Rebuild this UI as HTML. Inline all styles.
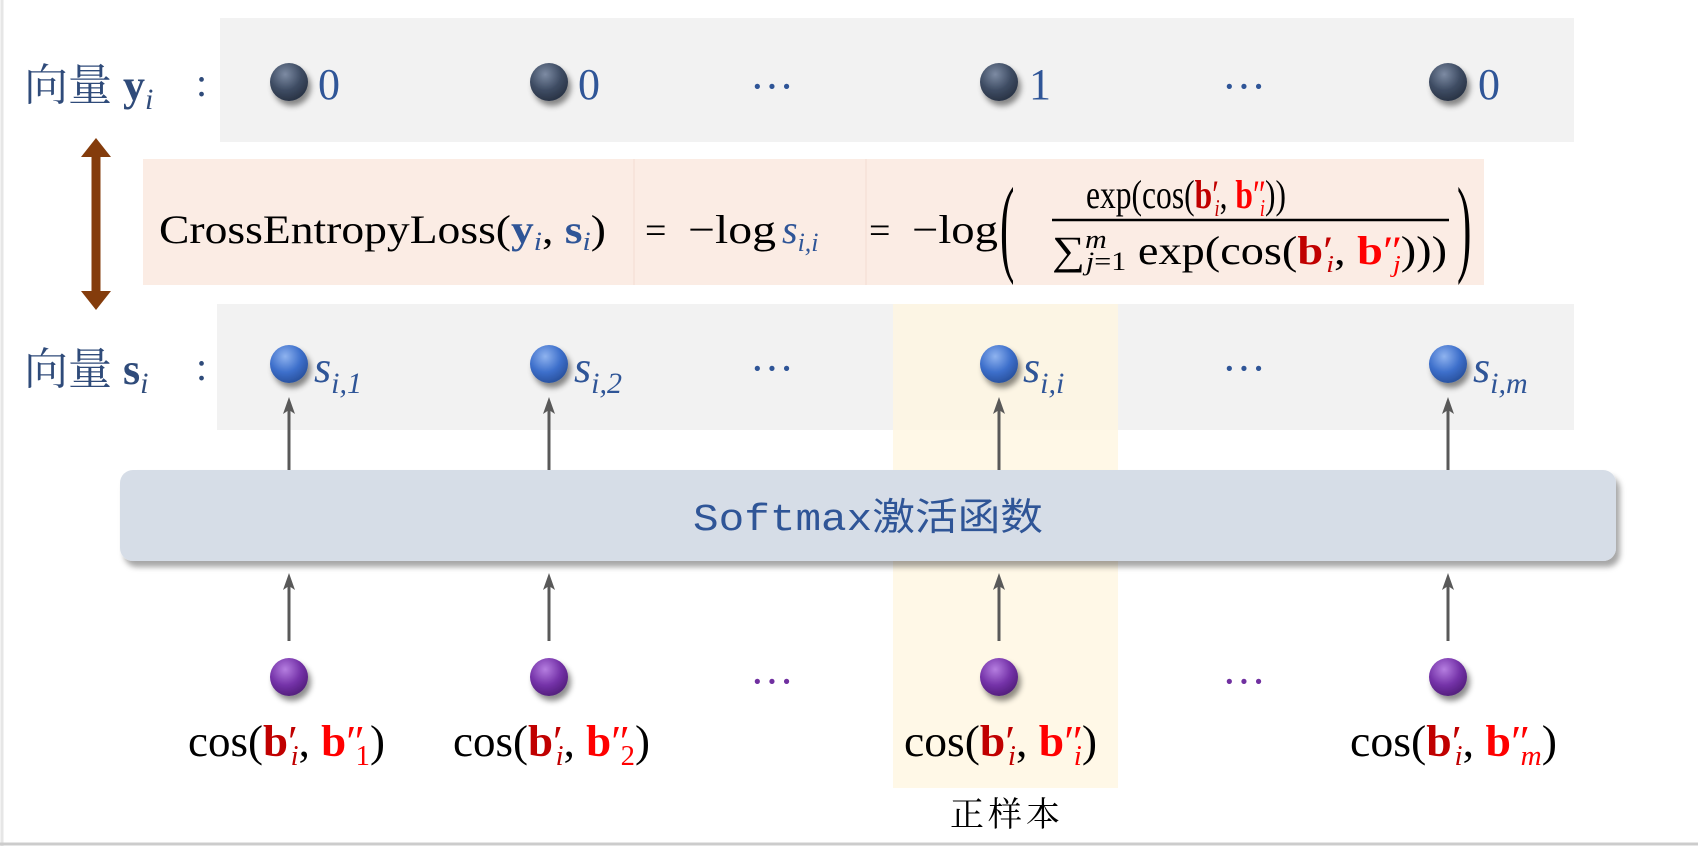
<!DOCTYPE html>
<html><head><meta charset="utf-8"><style>
html,body{margin:0;padding:0;background:#fff;width:1698px;height:846px;overflow:hidden}
svg{display:block}
.m{font-family:"Liberation Serif",serif}
.cj{font-family:"Liberation Serif","Noto Serif CJK SC",serif}
</style></head><body>
<svg width="1698" height="846" viewBox="0 0 1698 846" xmlns="http://www.w3.org/2000/svg">
<defs>
<radialGradient id="gd" cx="40%" cy="30%" r="70%"><stop offset="0" stop-color="#7d8ba3"/><stop offset="0.6" stop-color="#3e4c63"/><stop offset="1" stop-color="#2a3446"/></radialGradient>
<radialGradient id="gb" cx="40%" cy="30%" r="70%"><stop offset="0" stop-color="#8fb3ef"/><stop offset="0.6" stop-color="#3d6fcb"/><stop offset="1" stop-color="#2a53a0"/></radialGradient>
<radialGradient id="gp" cx="40%" cy="30%" r="70%"><stop offset="0" stop-color="#b57ee0"/><stop offset="0.6" stop-color="#7432a8"/><stop offset="1" stop-color="#55207f"/></radialGradient>
<filter id="sh" x="-50%" y="-50%" width="200%" height="200%"><feDropShadow dx="3" dy="5" stdDeviation="3" flood-color="#000" flood-opacity="0.45"/></filter>
<filter id="bs" x="-5%" y="-20%" width="110%" height="150%"><feDropShadow dx="4" dy="6" stdDeviation="3" flood-color="#000" flood-opacity="0.35"/></filter>
</defs>
<line x1="2" y1="0" x2="2" y2="846" stroke="#e6e6e6" stroke-width="3"/>
<line x1="0" y1="844" x2="1698" y2="844" stroke="#cccccc" stroke-width="3"/>

<rect x="220" y="18" width="1354" height="124" fill="#f2f2f2"/>
<rect x="143" y="159" width="1341" height="126" fill="#fbece4"/>
<line x1="634" y1="159" x2="634" y2="285" stroke="#f3ddd2" stroke-width="1"/>
<line x1="866" y1="159" x2="866" y2="285" stroke="#f3ddd2" stroke-width="1"/>
<rect x="217" y="304" width="1357" height="126" fill="#f2f2f2"/>
<rect x="893" y="304" width="225" height="484" fill="#fff5df" opacity="0.75"/>

<text x="24" y="100" class="cj" font-size="44" fill="#2f4b7a">向量 <tspan font-weight="bold" font-family="Liberation Serif">y</tspan><tspan font-style="italic" font-size="30" dy="9">i</tspan></text>
<text x="196" y="96" class="m" font-size="40" fill="#2f4b7a">:</text>
<text x="24" y="384" class="cj" font-size="44" fill="#2f4b7a">向量 <tspan font-weight="bold" font-family="Liberation Serif">s</tspan><tspan font-style="italic" font-size="30" dy="9">i</tspan></text>
<text x="196" y="380" class="m" font-size="40" fill="#2f4b7a">:</text>

<line x1="96" y1="152" x2="96" y2="294" stroke="#843c0c" stroke-width="9"/>
<path d="M96,138 L111,157 L81,157 Z" fill="#843c0c"/>
<path d="M96,310 L111,291 L81,291 Z" fill="#843c0c"/>

<g filter="url(#sh)">
<circle cx="289" cy="82" r="19" fill="url(#gd)"/><circle cx="549" cy="82" r="19" fill="url(#gd)"/>
<circle cx="999" cy="82" r="19" fill="url(#gd)"/><circle cx="1448" cy="82" r="19" fill="url(#gd)"/>
</g>
<g class="m" font-size="44" fill="#2f5597">
<text x="318" y="99">0</text><text x="578" y="99">0</text><text x="1029" y="99">1</text><text x="1478" y="99">0</text>
<text x="750" y="101">···</text><text x="1222" y="101">···</text>
</g>

<g class="m" fill="#000">
<text x="159" y="243" font-size="40" textLength="447" lengthAdjust="spacingAndGlyphs">CrossEntropyLoss(<tspan font-weight="bold" fill="#2f5597">y</tspan><tspan font-style="italic" font-size="26" dy="7" fill="#2f5597">i</tspan><tspan dy="-7">, </tspan><tspan font-weight="bold" fill="#2f5597">s</tspan><tspan font-style="italic" font-size="26" dy="7" fill="#2f5597">i</tspan><tspan dy="-7">)</tspan></text>
<text x="645" y="243" font-size="38">=</text>
<text x="688" y="243" font-size="40" textLength="88" lengthAdjust="spacingAndGlyphs">−log</text>
<text x="782" y="243" font-size="40" font-style="italic" fill="#2f5597">s<tspan font-size="26" dy="8">i,i</tspan></text>
<text x="869" y="243" font-size="38">=</text>
<text x="912" y="243" font-size="40" textLength="86" lengthAdjust="spacingAndGlyphs">−log</text>
<text x="1000" y="262" font-size="108" transform="translate(1000 0) scale(0.4 1) translate(-1000 0)">(</text>
<text x="1457" y="262" font-size="108" transform="translate(1457 0) scale(0.4 1) translate(-1457 0)">)</text>
<text x="1086" y="208" font-size="40" textLength="200" lengthAdjust="spacingAndGlyphs">exp(cos(<tspan font-weight="bold" fill="#c00000">b</tspan><tspan fill="#c00000">′</tspan><tspan font-style="italic" font-size="24" dy="8" dx="-6" fill="#c00000">i</tspan><tspan dy="-8">, </tspan><tspan font-weight="bold" fill="#ff0000">b</tspan><tspan fill="#ff0000">″</tspan><tspan font-style="italic" font-size="24" dy="8" dx="-8" fill="#ff0000">i</tspan><tspan dy="-8">))</tspan></text>
<line x1="1052" y1="220" x2="1449" y2="220" stroke="#000" stroke-width="2.5"/>
<text x="1052" y="264" font-size="40" textLength="395" lengthAdjust="spacingAndGlyphs">∑<tspan font-style="italic" font-size="26" dy="-16">m</tspan><tspan font-style="italic" font-size="26" dy="22" dx="-18">j</tspan><tspan font-size="26">=1</tspan><tspan dy="-6"> exp(cos(</tspan><tspan font-weight="bold" fill="#c00000">b</tspan><tspan fill="#c00000">′</tspan><tspan font-style="italic" font-size="24" dy="8" dx="-6" fill="#c00000">i</tspan><tspan dy="-8">, </tspan><tspan font-weight="bold" fill="#ff0000">b</tspan><tspan fill="#ff0000">″</tspan><tspan font-style="italic" font-size="24" dy="8" dx="-8" fill="#ff0000">j</tspan><tspan dy="-8">)))</tspan></text>
</g>

<g filter="url(#sh)">
<circle cx="289" cy="364" r="19" fill="url(#gb)"/><circle cx="549" cy="364" r="19" fill="url(#gb)"/>
<circle cx="999" cy="364" r="19" fill="url(#gb)"/><circle cx="1448" cy="364" r="19" fill="url(#gb)"/>
</g>
<g class="m" font-size="44" fill="#2f5597" font-style="italic">
<text x="314" y="382">s<tspan font-size="30" dy="11">i,1</tspan></text>
<text x="574" y="382">s<tspan font-size="30" dy="11">i,2</tspan></text>
<text x="1023" y="382">s<tspan font-size="30" dy="11">i,i</tspan></text>
<text x="1473" y="382">s<tspan font-size="30" dy="11">i,m</tspan></text>
</g>
<g class="m" font-size="44" fill="#2f5597"><text x="750" y="383">···</text><text x="1222" y="383">···</text></g>

<g stroke="#595959" stroke-width="3">
<line x1="289" y1="470" x2="289" y2="405"/><line x1="549" y1="470" x2="549" y2="405"/>
<line x1="999" y1="470" x2="999" y2="405"/><line x1="1448" y1="470" x2="1448" y2="405"/>
<line x1="289" y1="641" x2="289" y2="581"/><line x1="549" y1="641" x2="549" y2="581"/>
<line x1="999" y1="641" x2="999" y2="581"/><line x1="1448" y1="641" x2="1448" y2="581"/>
</g>
<g fill="#595959">
<path d="M289,397 L295,414 L289,410 L283,414 Z"/><path d="M549,397 L555,414 L549,410 L543,414 Z"/>
<path d="M999,397 L1005,414 L999,410 L993,414 Z"/><path d="M1448,397 L1454,414 L1448,410 L1442,414 Z"/>
<path d="M289,573 L295,590 L289,586 L283,590 Z"/><path d="M549,573 L555,590 L549,586 L543,590 Z"/>
<path d="M999,573 L1005,590 L999,586 L993,590 Z"/><path d="M1448,573 L1454,590 L1448,586 L1442,590 Z"/>
</g>

<rect x="120" y="470" width="1496" height="91" rx="13" fill="#d6dde7" filter="url(#bs)"/>
<text x="868" y="530" text-anchor="middle" font-family="Liberation Mono,'Noto Sans CJK SC',monospace" font-size="38" fill="#2f5597" textLength="350" lengthAdjust="spacingAndGlyphs">Softmax激活函数</text>

<g filter="url(#sh)">
<circle cx="289" cy="677" r="19" fill="url(#gp)"/><circle cx="549" cy="677" r="19" fill="url(#gp)"/>
<circle cx="999" cy="677" r="19" fill="url(#gp)"/><circle cx="1448" cy="677" r="19" fill="url(#gp)"/>
</g>
<g class="m" font-size="44" fill="#7030a0"><text x="750" y="696">···</text><text x="1222" y="696">···</text></g>

<g class="m" font-size="44" fill="#000">
<text x="188" y="756" textLength="197" lengthAdjust="spacingAndGlyphs">cos(<tspan font-weight="bold" fill="#c00000">b</tspan><tspan fill="#c00000">′</tspan><tspan font-style="italic" font-size="28" dy="9" dx="-7" fill="#c00000">i</tspan><tspan dy="-9">, </tspan><tspan font-weight="bold" fill="#ff0000">b</tspan><tspan fill="#ff0000">″</tspan><tspan font-size="28" dy="9" dx="-9" fill="#ff0000">1</tspan><tspan dy="-9">)</tspan></text>
<text x="453" y="756" textLength="197" lengthAdjust="spacingAndGlyphs">cos(<tspan font-weight="bold" fill="#c00000">b</tspan><tspan fill="#c00000">′</tspan><tspan font-style="italic" font-size="28" dy="9" dx="-7" fill="#c00000">i</tspan><tspan dy="-9">, </tspan><tspan font-weight="bold" fill="#ff0000">b</tspan><tspan fill="#ff0000">″</tspan><tspan font-size="28" dy="9" dx="-9" fill="#ff0000">2</tspan><tspan dy="-9">)</tspan></text>
<text x="904" y="756" textLength="193" lengthAdjust="spacingAndGlyphs">cos(<tspan font-weight="bold" fill="#c00000">b</tspan><tspan fill="#c00000">′</tspan><tspan font-style="italic" font-size="28" dy="9" dx="-7" fill="#c00000">i</tspan><tspan dy="-9">, </tspan><tspan font-weight="bold" fill="#ff0000">b</tspan><tspan fill="#ff0000">″</tspan><tspan font-style="italic" font-size="28" dy="9" dx="-9" fill="#ff0000">i</tspan><tspan dy="-9">)</tspan></text>
<text x="1350" y="756" textLength="207" lengthAdjust="spacingAndGlyphs">cos(<tspan font-weight="bold" fill="#c00000">b</tspan><tspan fill="#c00000">′</tspan><tspan font-style="italic" font-size="28" dy="9" dx="-7" fill="#c00000">i</tspan><tspan dy="-9">, </tspan><tspan font-weight="bold" fill="#ff0000">b</tspan><tspan fill="#ff0000">″</tspan><tspan font-style="italic" font-size="28" dy="9" dx="-9" fill="#ff0000">m</tspan><tspan dy="-9">)</tspan></text>
</g>
<text x="1007" y="826" text-anchor="middle" class="cj" font-size="34" fill="#000" letter-spacing="4">正样本</text>
</svg>
</body></html>
